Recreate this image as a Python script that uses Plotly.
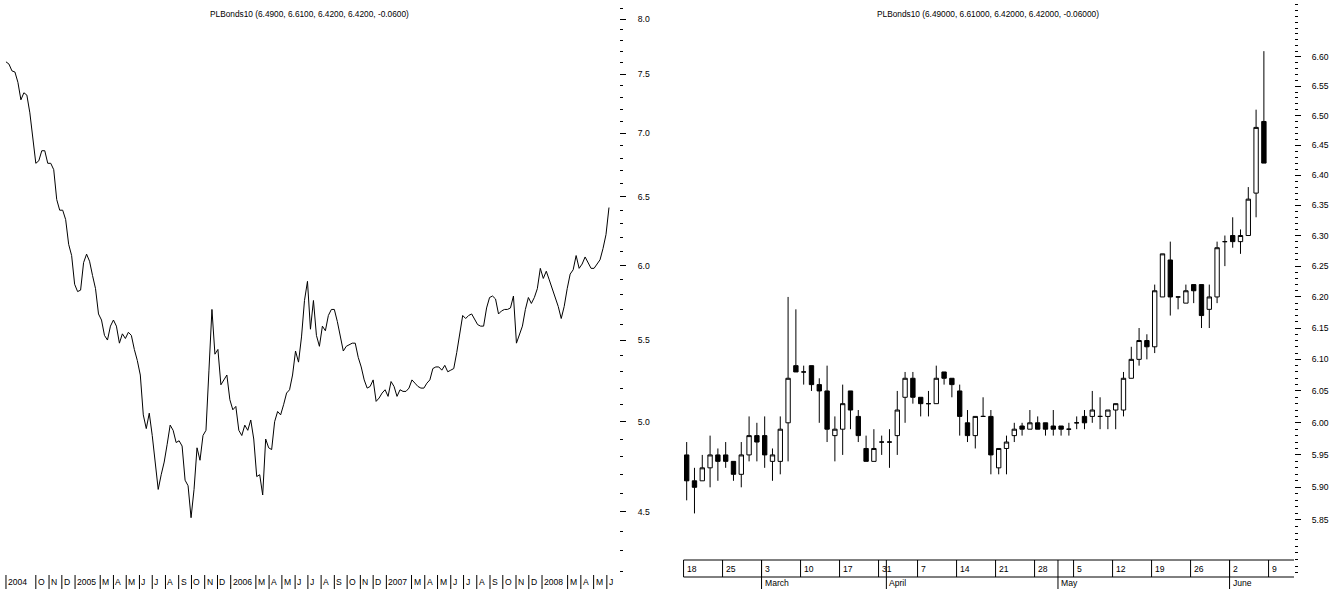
import numpy as np
import pandas as pd
import plotly.graph_objects as go

# ---------------- data ----------------
left_title = "PLBonds10 (6.4900, 6.6100, 6.4200, 6.4200, -0.0600)"
right_title = "PLBonds10 (6.49000, 6.61000, 6.42000, 6.42000, -0.06000)"

# weekly closes (Fridays) from 2004-07-23 to 2008-06-06
weekly_first = "2004-07-23"
weekly_close = [
    7.61, 7.59, 7.53, 7.52, 7.43, 7.28, 7.34, 7.32, 7.17, 6.95,
    6.76, 6.78, 6.86, 6.86, 6.76, 6.76, 6.71, 6.48, 6.40, 6.40,
    6.33, 6.15, 6.07, 5.87, 5.82, 5.83, 6.02, 6.08, 6.03, 5.93,
    5.84, 5.67, 5.63, 5.53, 5.50, 5.59, 5.63, 5.59, 5.48, 5.54,
    5.51, 5.55, 5.53, 5.44, 5.37, 5.28, 5.04, 4.96, 5.05, 4.92,
    4.78, 4.62, 4.70, 4.77, 4.87, 4.98, 4.95, 4.88, 4.89, 4.86,
    4.67, 4.64, 4.47, 4.62, 4.85, 4.78, 4.92, 4.95, 5.31, 5.70,
    5.41, 5.44, 5.22, 5.25, 5.28, 5.13, 5.07, 5.09, 4.95, 4.92,
    4.98, 4.95, 5.01, 4.90, 4.69, 4.70, 4.59, 4.90, 4.85, 4.84,
    5.00, 5.06, 5.04, 5.10, 5.17, 5.19, 5.28, 5.43, 5.36, 5.52,
    5.76, 5.89, 5.57, 5.76, 5.53, 5.46, 5.59, 5.56, 5.66, 5.70,
    5.70, 5.62, 5.53, 5.43, 5.46, 5.47, 5.48, 5.48, 5.39, 5.33,
    5.25, 5.20, 5.21, 5.25, 5.12, 5.14, 5.17, 5.19, 5.15, 5.24,
    5.21, 5.15, 5.19, 5.18, 5.18, 5.20, 5.25, 5.23, 5.21, 5.20,
    5.20, 5.23, 5.25, 5.32, 5.33, 5.33, 5.31, 5.34, 5.30, 5.31,
    5.32, 5.42, 5.53, 5.66, 5.64, 5.66, 5.67, 5.63, 5.60, 5.59,
    5.59, 5.71, 5.78, 5.79, 5.77, 5.67, 5.69, 5.70, 5.70, 5.71,
    5.79, 5.48, 5.53, 5.59, 5.70, 5.78, 5.74, 5.78, 5.84, 5.98,
    5.91, 5.96, 5.90, 5.84, 5.78, 5.72, 5.64, 5.72, 5.84, 5.94,
    5.97, 6.07, 5.98, 6.01, 6.06, 6.02, 5.98, 5.98, 6.01, 6.04,
    6.12, 6.22, 6.42,
]

left_month_dates = [
    "2004-07-23", "2004-10-01", "2004-11-01", "2004-12-01",
    "2005-01-01", "2005-03-01", "2005-04-01", "2005-05-01", "2005-06-01", "2005-07-01",
    "2005-08-01", "2005-09-01", "2005-10-01", "2005-11-01", "2005-12-01",
    "2006-01-01", "2006-03-01", "2006-04-01", "2006-05-01", "2006-06-01", "2006-07-01",
    "2006-08-01", "2006-09-01", "2006-10-01", "2006-11-01", "2006-12-01",
    "2007-01-01", "2007-03-01", "2007-04-01", "2007-05-01", "2007-06-01", "2007-07-01",
    "2007-08-01", "2007-09-01", "2007-10-01", "2007-11-01", "2007-12-01",
    "2008-01-01", "2008-03-01", "2008-04-01", "2008-05-01", "2008-06-01",
]
left_month_labels = [
    "2004", "O", "N", "D",
    "2005", "M", "A", "M", "J", "J", "A", "S", "O", "N", "D",
    "2006", "M", "A", "M", "J", "J", "A", "S", "O", "N", "D",
    "2007", "M", "A", "M", "J", "J", "A", "S", "O", "N", "D",
    "2008", "M", "A", "M", "J",
]

left_major_ticks = [4.5, 5.0, 5.5, 6.0, 6.5, 7.0, 7.5, 8.0]
left_major_text = ["4.5", "5.0", "5.5", "6.0", "6.5", "7.0", "7.5", "8.0"]

# daily candles 2008-02-18 .. 2008-06-06
daily_open = [
    5.95, 5.91, 5.91, 5.93, 5.95, 5.95, 5.94, 5.92, 5.95, 5.98,
    5.98, 5.94, 5.94, 6.00, 6.09, 6.08, 6.09, 6.06, 6.05, 5.98,
    5.99, 6.05, 6.01, 5.96, 5.94, 5.97, 5.97, 5.98, 6.04, 6.07,
    6.04, 6.03, 6.03, 6.08, 6.07, 6.05, 6.00, 5.98, 6.01, 6.01,
    5.93, 5.96, 5.98, 5.995, 5.99, 6.00, 6.00, 5.995, 5.995, 5.99,
    6.00, 6.01, 6.01, 6.01, 6.01, 6.02, 6.02, 6.07, 6.10, 6.13,
    6.12, 6.20, 6.26, 6.20, 6.19, 6.22, 6.22, 6.18, 6.20, 6.29,
    6.30, 6.29, 6.30, 6.37, 6.49,
]
daily_high = [
    5.97, 5.93, 5.95, 5.98, 5.96, 5.97, 5.94, 5.97, 6.01, 6.00,
    6.01, 5.96, 6.01, 6.20, 6.18, 6.09, 6.09, 6.07, 6.09, 6.01,
    6.06, 6.05, 6.02, 5.98, 5.99, 5.98, 5.99, 6.05, 6.08, 6.08,
    6.04, 6.05, 6.09, 6.08, 6.07, 6.06, 6.02, 6.01, 6.04, 6.02,
    5.96, 5.98, 6.00, 6.00, 6.02, 6.01, 6.00, 6.02, 5.995, 6.00,
    6.01, 6.02, 6.05, 6.04, 6.02, 6.03, 6.08, 6.12, 6.15, 6.14,
    6.22, 6.27, 6.29, 6.20, 6.22, 6.22, 6.22, 6.22, 6.29, 6.30,
    6.33, 6.31, 6.38, 6.51, 6.61,
]
daily_low = [
    5.88, 5.86, 5.91, 5.90, 5.91, 5.93, 5.91, 5.90, 5.94, 5.94,
    5.93, 5.91, 5.92, 5.94, 6.08, 6.06, 6.05, 6.00, 5.97, 5.94,
    5.95, 5.99, 5.97, 5.94, 5.94, 5.95, 5.93, 5.95, 6.00, 6.03,
    6.01, 6.01, 6.03, 6.06, 6.04, 5.98, 5.97, 5.96, 6.01, 5.92,
    5.92, 5.92, 5.97, 5.98, 5.99, 5.99, 5.98, 5.98, 5.98, 5.98,
    5.99, 5.99, 6.00, 5.99, 5.99, 5.99, 6.01, 6.07, 6.09, 6.10,
    6.11, 6.20, 6.17, 6.18, 6.19, 6.19, 6.15, 6.15, 6.19, 6.25,
    6.28, 6.27, 6.30, 6.33, 6.42,
]
daily_close = [
    5.91, 5.90, 5.93, 5.95, 5.94, 5.94, 5.92, 5.95, 5.98, 5.97,
    5.95, 5.95, 5.99, 6.07, 6.08, 6.08, 6.06, 6.05, 5.99, 5.99,
    6.03, 6.02, 5.98, 5.94, 5.96, 5.97, 5.97, 6.02, 6.07, 6.04,
    6.03, 6.03, 6.07, 6.07, 6.06, 6.01, 5.98, 6.01, 6.01, 5.95,
    5.96, 5.97, 5.99, 5.99, 6.00, 5.99, 5.99, 5.99, 5.99, 5.99,
    6.00, 6.00, 6.02, 6.01, 6.02, 6.03, 6.07, 6.10, 6.13, 6.12,
    6.21, 6.27, 6.20, 6.20, 6.21, 6.21, 6.17, 6.20, 6.28, 6.29,
    6.29, 6.30, 6.36, 6.48, 6.42,
]

week_labels = ["18", "25", "3", "10", "17", "31", "7", "14", "21", "28", "5", "12", "19", "26", "2", "9"]
week_start_bar = [0, 5, 10, 15, 20, 25, 30, 35, 40, 45, 50, 55, 60, 65, 70, 75]
month_names = ["March", "April", "May", "June"]
month_start_bar = [10, 26, 48, 70]

right_major_ticks = [5.85, 5.90, 5.95, 6.00, 6.05, 6.10, 6.15, 6.20, 6.25, 6.30,
                     6.35, 6.40, 6.45, 6.50, 6.55, 6.60]
right_major_text = ["5.85", "5.90", "5.95", "6.00", "6.05", "6.10", "6.15", "6.20", "6.25",
                    "6.30", "6.35", "6.40", "6.45", "6.50", "6.55", "6.60"]

# ---------------- layout constants ----------------
W, H = 1340, 589
PLOT_H = 575  # plot area height in px (from top)
FONT = "Liberation Sans, Arial, sans-serif"
FS = 8.6      # general text size
FS_TITLE = 8.3


def py(px):
    """pixel row -> paper y"""
    return (PLOT_H - px) / PLOT_H


left_minor = [v for v in np.round(np.arange(4.2, 8.15, 0.1), 2) if v not in left_major_ticks]
right_minor = [v for v in np.round(np.arange(5.77, 6.695, 0.01), 2)
               if not any(abs(v - m) < 1e-6 for m in right_major_ticks)]

weekly_dates = pd.date_range(weekly_first, periods=len(weekly_close), freq="7D")
bar_pos = list(range(len(daily_close)))

fig = go.Figure()
fig.add_trace(go.Scatter(
    x=weekly_dates, y=weekly_close, mode="lines",
    line=dict(color="black", width=1), xaxis="x", yaxis="y",
    showlegend=False, hoverinfo="skip"))
fig.add_trace(go.Candlestick(
    x=bar_pos, open=daily_open, high=daily_high, low=daily_low, close=daily_close,
    xaxis="x2", yaxis="y2", whiskerwidth=0,
    increasing=dict(line=dict(color="black", width=1), fillcolor="white"),
    decreasing=dict(line=dict(color="black", width=1), fillcolor="black"),
    showlegend=False))

axis_common = dict(showgrid=False, zeroline=False, showline=False)
fig.update_layout(
    width=W, height=H,
    margin=dict(l=0, r=0, t=0, b=H - PLOT_H, autoexpand=False),
    paper_bgcolor="white", plot_bgcolor="white",
    font=dict(family=FONT, size=FS, color="black"),
    showlegend=False, boxgap=0.2,
    xaxis=dict(domain=[0, 619 / W], type="date",
               range=["2004-07-09", "2008-06-29 12:00"],
               showticklabels=False, ticks="", anchor="y", **axis_common),
    yaxis=dict(domain=[0, 1], type="log", range=[0.62127, 0.91272], side="right",
               anchor="x", tickvals=left_major_ticks, ticktext=left_major_text,
               ticks="outside", ticklen=6, tickwidth=1, tickcolor="black",
               ticklabelstandoff=10, tickfont=dict(size=FS),
               minor=dict(tickvals=left_minor, ticks="outside", ticklen=3,
                          tickwidth=1, tickcolor="black", showgrid=False),
               **axis_common),
    xaxis2=dict(domain=[682 / W, 1294 / W], range=[-0.6, 77.86],
                showticklabels=False, ticks="", anchor="y2",
                rangeslider=dict(visible=False), **axis_common),
    yaxis2=dict(domain=[0, 1], type="log", range=[0.76093, 0.82599], side="right",
                anchor="x2", tickvals=right_major_ticks, ticktext=right_major_text,
                ticks="outside", ticklen=6, tickwidth=1, tickcolor="black",
                ticklabelstandoff=9, tickfont=dict(size=FS),
                minor=dict(tickvals=right_minor, ticks="outside", ticklen=3,
                           tickwidth=1, tickcolor="black", showgrid=False),
                **axis_common),
)

annotations = []
shapes = []

# titles
annotations.append(dict(text=left_title, x=309.5 / W, y=py(14), xref="paper", yref="paper",
                        showarrow=False, xanchor="center", yanchor="middle",
                        font=dict(size=FS_TITLE)))
annotations.append(dict(text=right_title, x=988 / W, y=py(14), xref="paper", yref="paper",
                        showarrow=False, xanchor="center", yanchor="middle",
                        font=dict(size=FS_TITLE)))

# left time axis labels with separators
for d, lab in zip(left_month_dates, left_month_labels):
    shapes.append(dict(type="line", xref="x", yref="paper", x0=d, x1=d,
                       y0=py(575), y1=py(589), line=dict(color="black", width=1)))
    annotations.append(dict(text=lab, x=d, y=py(582), xref="x", yref="paper",
                            showarrow=False, xanchor="left", yanchor="middle",
                            xshift=0, font=dict(size=FS)))

# right daily axis strip
x_end = 77.86
y_top, y_mid = 560, 577
shapes.append(dict(type="line", xref="x2", yref="paper", x0=-0.4, x1=x_end,
                   y0=py(y_top), y1=py(y_top), line=dict(color="black", width=1)))
shapes.append(dict(type="line", xref="x2", yref="paper", x0=-0.4, x1=x_end,
                   y0=py(y_mid), y1=py(y_mid), line=dict(color="black", width=1)))
for b, lab in zip(week_start_bar, week_labels):
    xs = b - 0.4
    shapes.append(dict(type="line", xref="x2", yref="paper", x0=xs, x1=xs,
                       y0=py(y_top), y1=py(y_mid), line=dict(color="black", width=1)))
    annotations.append(dict(text=lab, x=xs, y=py(568.5), xref="x2", yref="paper",
                            showarrow=False, xanchor="left", yanchor="middle",
                            xshift=1, font=dict(size=FS)))
for b, lab in zip(month_start_bar, month_names):
    xs = b - 0.4
    shapes.append(dict(type="line", xref="x2", yref="paper", x0=xs, x1=xs,
                       y0=py(y_top), y1=py(589), line=dict(color="black", width=1)))
    annotations.append(dict(text=lab, x=xs, y=py(582.5), xref="x2", yref="paper",
                            showarrow=False, xanchor="left", yanchor="middle",
                            xshift=1, font=dict(size=FS)))

fig.update_layout(annotations=annotations, shapes=shapes)

fig.write_html("out.html", config={"displayModeBar": False},
               post_script="document.body.style.margin='0';")
